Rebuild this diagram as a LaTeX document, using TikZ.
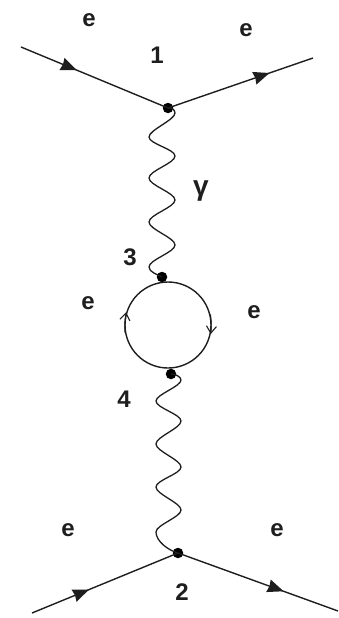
\documentclass[tikz,border=0pt]{standalone}
\usepackage{fontspec}
\setmainfont{Liberation Sans}
\usetikzlibrary{arrows.meta,decorations.markings}
\definecolor{ink}{RGB}{30,30,30}
\tikzset{
  vertex/.style={circle,fill=black,inner sep=0pt,minimum size=10.5pt},
  lab/.style={inner sep=0pt,text=ink,font=\fontsize{24}{24}\selectfont\bfseries},
  fermion/.style={draw=ink,line width=1.4pt},
  photon/.style={draw=ink,line width=1.3pt},
  arrowat/.style={postaction={decorate},decoration={markings,mark=at position #1 with {\arrow[ink]{Stealth[length=16pt,width=13pt,inset=1pt]}}}},
  wiggle/.style={out=-90,in=90,looseness=0.55},
  tick/.style={draw=ink,line width=1.1pt,-{Straight Barb[length=7pt,width=10pt]}}
}
\begin{document}
\begin{tikzpicture}[x=1pt,y=-1pt]
\useasboundingbox (0,0) rectangle (338,618);
\node[circle,draw=ink,line width=1.4pt,minimum size=86pt,inner sep=0pt] (loop) at (168,325) {};
\node[vertex] (v1) at (168,108) {};
\node[vertex] (v3) at (162,277) {};
\node[vertex] (v4) at (171,374) {};
\node[vertex] (v2) at (178,553) {};
\coordinate (a) at (21,47);
\coordinate (b) at (313,58);
\coordinate (c) at (32,613);
\coordinate (d) at (338,611);
\draw[fermion,arrowat=0.38] (a) -- (v1.center);
\draw[fermion,arrowat=0.7] (v1.center) -- (b);
\draw[fermion,arrowat=0.39] (c) -- (v2.center);
\draw[fermion,arrowat=0.66] (v2.center) -- (d);
\draw[tick] (loop.190) to[bend left=6] (loop.163);
\draw[tick] (loop.14) to[bend left=6] (loop.-12);
\foreach \n/\x/\y in {p0/175/113,p1/149/137,p2/175/156,p3/149/178,p4/175/200,p5/149/222,p6/175/245,p7/149/267,
  q0/181/380,q1/156/401,q2/181/421,q3/156/444,q4/181/467,q5/156/487,q6/181/510,q7/156/532}
  \coordinate (\n) at (\x,\y);
\draw[photon] (v1.center) to[out=10,in=90,looseness=1] (p0) to[out=-90,in=90,looseness=0.5] (p1) to[wiggle] (p2) to[wiggle] (p3) to[wiggle] (p4)
  to[wiggle] (p5) to[wiggle] (p6) to[wiggle] (p7) to[out=-90,in=150,looseness=0.8] (v3.center);
\draw[photon] (v4.center) to[out=0,in=90,looseness=0.8] (q0) to[out=-90,in=90,looseness=0.5] (q1) to[wiggle] (q2) to[wiggle] (q3) to[wiggle] (q4)
  to[wiggle] (q5) to[wiggle] (q6) to[wiggle] (q7) to[out=-90,in=165,looseness=0.8] (v2.center);
\node[lab] (e1) at (89,20) {e};
\node[lab] (e2) at (246,30) {e};
\node[lab] (n1) at (157,55) {1};
\node[lab,font=\fontsize{28}{28}\selectfont\bfseries] (g) at (201,191) {γ};
\node[lab] (n3) at (130,257) {3};
\node[lab] (e3) at (88,303) {e};
\node[lab] (e4) at (254,312) {e};
\node[lab] (n4) at (124,399) {4};
\node[lab] (e5) at (68,530) {e};
\node[lab] (e6) at (277,530) {e};
\node[lab] (n2) at (182,592) {2};
\end{tikzpicture}
\end{document}
